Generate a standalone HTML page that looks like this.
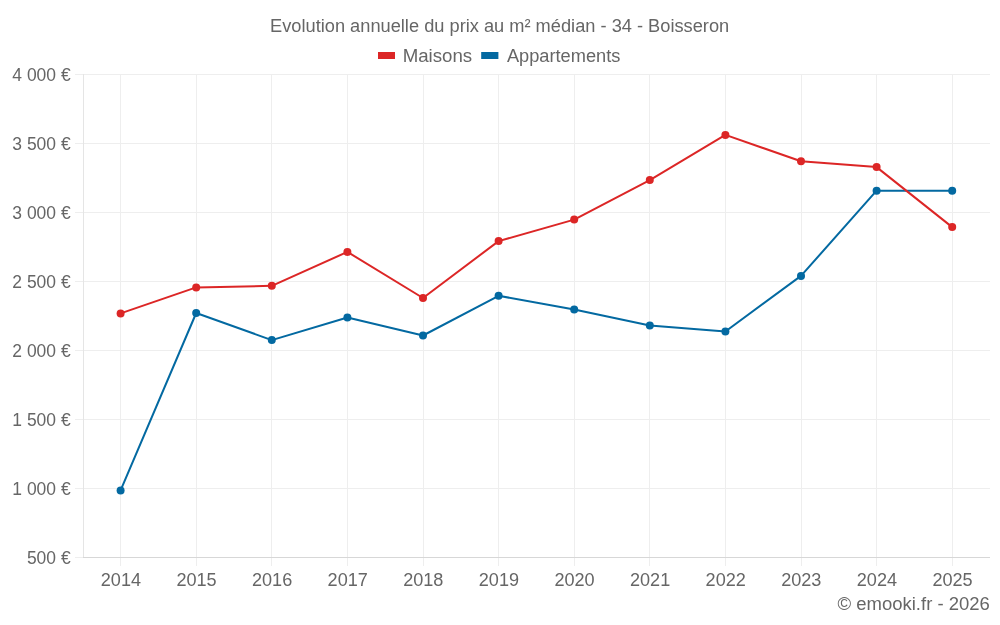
<!DOCTYPE html>
<html><head><meta charset="utf-8"><style>
html,body{margin:0;padding:0;background:#fff;width:1000px;height:625px;overflow:hidden}
svg{display:block;will-change:transform;font-family:"Liberation Sans",sans-serif;font-size:18.5px;fill:#666666}
</style></head><body>
<svg width="1000" height="625" viewBox="0 0 1000 625">
<rect width="1000" height="625" fill="#fff"/>
<line x1="75" y1="74.5" x2="990" y2="74.5" stroke="#eeeeee" stroke-width="1"/>
<line x1="75" y1="143.5" x2="990" y2="143.5" stroke="#eeeeee" stroke-width="1"/>
<line x1="75" y1="212.5" x2="990" y2="212.5" stroke="#eeeeee" stroke-width="1"/>
<line x1="75" y1="281.5" x2="990" y2="281.5" stroke="#eeeeee" stroke-width="1"/>
<line x1="75" y1="350.5" x2="990" y2="350.5" stroke="#eeeeee" stroke-width="1"/>
<line x1="75" y1="419.5" x2="990" y2="419.5" stroke="#eeeeee" stroke-width="1"/>
<line x1="75" y1="488.5" x2="990" y2="488.5" stroke="#eeeeee" stroke-width="1"/>
<line x1="120.5" y1="74" x2="120.5" y2="566" stroke="#eeeeee" stroke-width="1"/>
<line x1="196.5" y1="74" x2="196.5" y2="566" stroke="#eeeeee" stroke-width="1"/>
<line x1="271.5" y1="74" x2="271.5" y2="566" stroke="#eeeeee" stroke-width="1"/>
<line x1="347.5" y1="74" x2="347.5" y2="566" stroke="#eeeeee" stroke-width="1"/>
<line x1="423.5" y1="74" x2="423.5" y2="566" stroke="#eeeeee" stroke-width="1"/>
<line x1="498.5" y1="74" x2="498.5" y2="566" stroke="#eeeeee" stroke-width="1"/>
<line x1="574.5" y1="74" x2="574.5" y2="566" stroke="#eeeeee" stroke-width="1"/>
<line x1="649.5" y1="74" x2="649.5" y2="566" stroke="#eeeeee" stroke-width="1"/>
<line x1="725.5" y1="74" x2="725.5" y2="566" stroke="#eeeeee" stroke-width="1"/>
<line x1="801.5" y1="74" x2="801.5" y2="566" stroke="#eeeeee" stroke-width="1"/>
<line x1="876.5" y1="74" x2="876.5" y2="566" stroke="#eeeeee" stroke-width="1"/>
<line x1="952.5" y1="74" x2="952.5" y2="566" stroke="#eeeeee" stroke-width="1"/>
<line x1="75" y1="557.5" x2="83" y2="557.5" stroke="#eeeeee" stroke-width="1"/>
<line x1="83.5" y1="74" x2="83.5" y2="558" stroke="#e5e5e5" stroke-width="1"/>
<line x1="83" y1="557.5" x2="990" y2="557.5" stroke="#d7d7d7" stroke-width="1"/>
<text transform="matrix(0.9867,0,0,1,6.279,0.0)" x="500.00" y="31.80" text-anchor="middle">Evolution annuelle du prix au m² médian - 34 - Boisseron</text>
<text transform="matrix(1.0104,0,0,1,-5.520,0.0)" x="404.00" y="61.70" text-anchor="start">Maisons</text>
<text transform="matrix(0.9872,0,0,1,6.366,0.0)" x="507.00" y="61.70" text-anchor="start">Appartements</text>
<text transform="matrix(0.9450,0,0,1,3.548,0.0)" x="71.00" y="80.80" text-anchor="end">4 000 €</text>
<text transform="matrix(0.9450,0,0,1,3.548,0.0)" x="71.00" y="149.80" text-anchor="end">3 500 €</text>
<text transform="matrix(0.9450,0,0,1,3.548,0.0)" x="71.00" y="218.80" text-anchor="end">3 000 €</text>
<text transform="matrix(0.9450,0,0,1,3.548,0.0)" x="71.00" y="287.80" text-anchor="end">2 500 €</text>
<text transform="matrix(0.9450,0,0,1,3.548,0.0)" x="71.00" y="356.80" text-anchor="end">2 000 €</text>
<text transform="matrix(0.9450,0,0,1,3.548,0.0)" x="71.00" y="425.80" text-anchor="end">1 500 €</text>
<text transform="matrix(0.9450,0,0,1,3.548,0.0)" x="71.00" y="494.80" text-anchor="end">1 000 €</text>
<text transform="matrix(0.9450,0,0,1,3.548,0.0)" x="71.00" y="563.80" text-anchor="end">500 €</text>
<text transform="matrix(0.9780,0,0,1,2.960,0.0)" x="120.60" y="585.70" text-anchor="middle">2014</text>
<text transform="matrix(0.9780,0,0,1,4.616,0.0)" x="196.20" y="585.70" text-anchor="middle">2015</text>
<text transform="matrix(0.9780,0,0,1,6.278,0.0)" x="271.80" y="585.70" text-anchor="middle">2016</text>
<text transform="matrix(0.9780,0,0,1,7.943,0.0)" x="347.40" y="585.70" text-anchor="middle">2017</text>
<text transform="matrix(0.9780,0,0,1,9.607,0.0)" x="423.00" y="585.70" text-anchor="middle">2018</text>
<text transform="matrix(0.9780,0,0,1,11.270,0.0)" x="498.60" y="585.70" text-anchor="middle">2019</text>
<text transform="matrix(0.9780,0,0,1,12.932,0.0)" x="574.20" y="585.70" text-anchor="middle">2020</text>
<text transform="matrix(0.9780,0,0,1,14.594,0.0)" x="649.80" y="585.70" text-anchor="middle">2021</text>
<text transform="matrix(0.9780,0,0,1,16.259,0.0)" x="725.40" y="585.70" text-anchor="middle">2022</text>
<text transform="matrix(0.9780,0,0,1,17.923,0.0)" x="801.00" y="585.70" text-anchor="middle">2023</text>
<text transform="matrix(0.9780,0,0,1,19.592,0.0)" x="876.60" y="585.70" text-anchor="middle">2024</text>
<text transform="matrix(0.9780,0,0,1,21.248,0.0)" x="952.20" y="585.70" text-anchor="middle">2025</text>
<text transform="matrix(0.9997,0,0,1,1.140,0.1)" x="989.00" y="609.50" text-anchor="end">© emooki.fr - 2026</text>
<rect x="378" y="52" width="17" height="7" fill="#dc2626"/>
<rect x="481.2" y="52" width="17.2" height="7" fill="#0369a1"/>
<polyline points="120.6,490.4 196.2,313.0 271.8,340.1 347.4,317.5 423.0,335.5 498.6,295.8 574.2,309.6 649.8,325.5 725.4,331.5 801.0,275.9 876.6,190.7 952.2,190.7" fill="none" stroke="#0369a1" stroke-width="2" stroke-linejoin="round" stroke-linecap="round"/><circle cx="120.6" cy="490.4" r="4" fill="#0369a1"/><circle cx="196.2" cy="313.0" r="4" fill="#0369a1"/><circle cx="271.8" cy="340.1" r="4" fill="#0369a1"/><circle cx="347.4" cy="317.5" r="4" fill="#0369a1"/><circle cx="423.0" cy="335.5" r="4" fill="#0369a1"/><circle cx="498.6" cy="295.8" r="4" fill="#0369a1"/><circle cx="574.2" cy="309.6" r="4" fill="#0369a1"/><circle cx="649.8" cy="325.5" r="4" fill="#0369a1"/><circle cx="725.4" cy="331.5" r="4" fill="#0369a1"/><circle cx="801.0" cy="275.9" r="4" fill="#0369a1"/><circle cx="876.6" cy="190.7" r="4" fill="#0369a1"/><circle cx="952.2" cy="190.7" r="4" fill="#0369a1"/>
<polyline points="120.6,313.4 196.2,287.4 271.8,285.8 347.4,251.9 423.0,298.0 498.6,241.1 574.2,219.6 649.8,180.1 725.4,134.9 801.0,161.3 876.6,167.1 952.2,227.1" fill="none" stroke="#dc2626" stroke-width="2" stroke-linejoin="round" stroke-linecap="round"/><circle cx="120.6" cy="313.4" r="4" fill="#dc2626"/><circle cx="196.2" cy="287.4" r="4" fill="#dc2626"/><circle cx="271.8" cy="285.8" r="4" fill="#dc2626"/><circle cx="347.4" cy="251.9" r="4" fill="#dc2626"/><circle cx="423.0" cy="298.0" r="4" fill="#dc2626"/><circle cx="498.6" cy="241.1" r="4" fill="#dc2626"/><circle cx="574.2" cy="219.6" r="4" fill="#dc2626"/><circle cx="649.8" cy="180.1" r="4" fill="#dc2626"/><circle cx="725.4" cy="134.9" r="4" fill="#dc2626"/><circle cx="801.0" cy="161.3" r="4" fill="#dc2626"/><circle cx="876.6" cy="167.1" r="4" fill="#dc2626"/><circle cx="952.2" cy="227.1" r="4" fill="#dc2626"/>
</svg></body></html>
